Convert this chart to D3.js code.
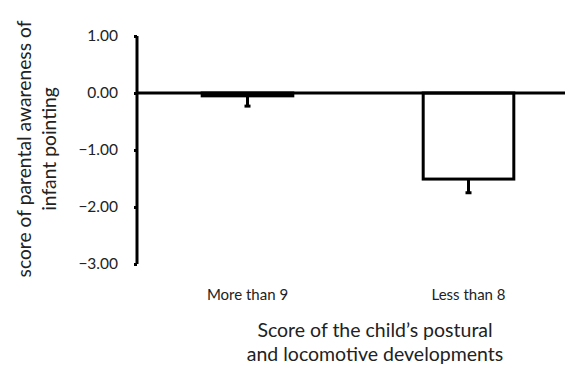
<!DOCTYPE html>
<html>
<head>
<meta charset="utf-8">
<script src="https://cdn.jsdelivr.net/npm/d3@7"></script>
<style>
  html, body { margin: 0; padding: 0; background: #fff; }
  svg { display: block; font-family: Lato, "Open Sans", sans-serif; }
</style>
</head>
<body>
<svg id="chart" width="565" height="367"></svg>
<script>
// Group labels, mean scores and lower error extents
const categories = ["More than 9", "Less than 8"];
const means = [-0.05, -1.51];
const errors = [0.18, 0.24];
const yTicks = [1, 0, -1, -2, -3];

const svg = d3.select("#chart");
const W = 565, H = 367;

const x = d3.scaleBand()
  .domain(categories)
  .range([137, 579])
  .paddingInner(0.59)
  .paddingOuter(0.295);

const y = d3.scaleLinear().domain([-3, 1]).range([264, 36]);

// Bars (white fill, black outline)
svg.selectAll("rect.bar")
  .data(categories)
  .join("rect")
  .attr("class", "bar")
  .attr("x", d => x(d))
  .attr("width", x.bandwidth())
  .attr("y", (d, i) => y(Math.max(0, means[i])))
  .attr("height", (d, i) => Math.abs(y(means[i]) - y(0)))
  .attr("fill", "#fff")
  .attr("stroke", "#000")
  .attr("stroke-width", 3);

// Error bars (downward only)
const eb = svg.selectAll("g.err")
  .data(categories)
  .join("g")
  .attr("class", "err");
eb.append("line")
  .attr("x1", d => x(d) + x.bandwidth() / 2)
  .attr("x2", d => x(d) + x.bandwidth() / 2)
  .attr("y1", (d, i) => y(means[i]))
  .attr("y2", (d, i) => y(means[i] - errors[i]))
  .attr("stroke", "#000")
  .attr("stroke-width", 3);
eb.append("line")
  .attr("x1", d => x(d) + x.bandwidth() / 2 - 3)
  .attr("x2", d => x(d) + x.bandwidth() / 2 + 3)
  .attr("y1", (d, i) => y(means[i] - errors[i]))
  .attr("y2", (d, i) => y(means[i] - errors[i]))
  .attr("stroke", "#000")
  .attr("stroke-width", 3);

// Zero baseline
svg.append("line")
  .attr("x1", 136).attr("x2", W)
  .attr("y1", y(0)).attr("y2", y(0))
  .attr("stroke", "#000").attr("stroke-width", 3);

// Y axis
const yAxis = svg.append("g")
  .attr("transform", "translate(137,0)")
  .call(d3.axisLeft(y).tickValues(yTicks).tickFormat(d3.format(".2f")).tickSize(3).tickPadding(16));
yAxis.select(".domain").attr("stroke-width", 3).attr("d", `M0,${y(1)}V${y(-3)}`);
yAxis.selectAll(".tick line").attr("stroke-width", 3);
yAxis.selectAll(".tick text").attr("font-size", 15.5).attr("fill", "#222")
  .attr("font-family", "Lato, Open Sans, sans-serif");

// Category labels
svg.selectAll("text.cat")
  .data(categories)
  .join("text")
  .attr("class", "cat")
  .attr("x", d => x(d) + x.bandwidth() / 2)
  .attr("y", 300)
  .attr("text-anchor", "middle")
  .attr("font-size", 15)
  .attr("fill", "#222")
  .text(d => d);

// X axis title
const xt = svg.append("text").attr("text-anchor", "middle").attr("font-size", 19.5).attr("fill", "#222");
xt.append("tspan").attr("x", 375).attr("y", 337).text("Score of the child\u2019s postural");
xt.append("tspan").attr("x", 375).attr("y", 361).text("and locomotive developments");

// Y axis title
const yt = svg.append("text").attr("text-anchor", "middle").attr("font-size", 19.3).attr("fill", "#222")
  .attr("transform", "translate(0,149) rotate(-90)");
yt.append("tspan").attr("x", 0).attr("y", 31).text("score of parental awareness of");
yt.append("tspan").attr("x", 0).attr("y", 56).text("infant pointing");
</script>
</body>
</html>
